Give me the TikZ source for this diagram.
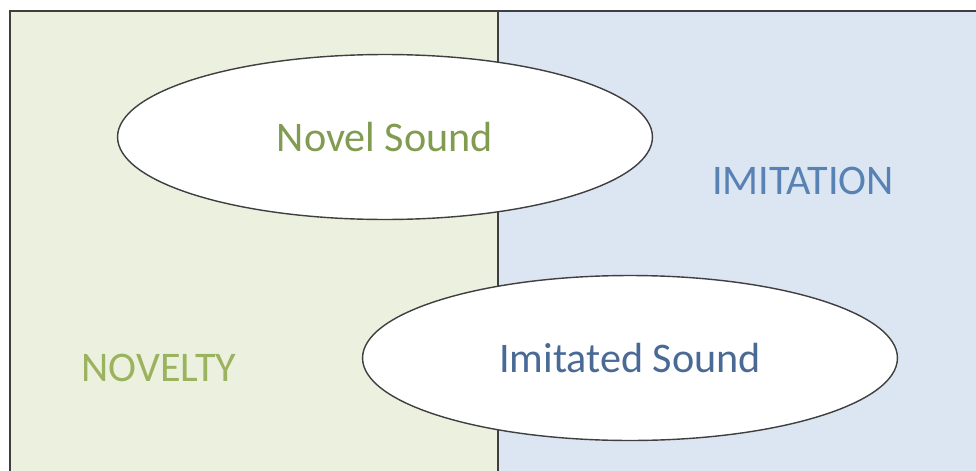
\documentclass[tikz,border=0pt]{standalone}
\usepackage{fontspec}
\setmainfont{Carlito}
\usetikzlibrary{shapes.geometric}

\definecolor{noveltyfill}{HTML}{EBF1DE}
\definecolor{imitationfill}{HTML}{DCE6F2}
\definecolor{noveltytext}{HTML}{9BB25E}
\definecolor{imitationtext}{HTML}{5882B4}
\definecolor{noveltext}{HTML}{819B50}
\definecolor{imitatedtext}{HTML}{4A6A96}
\definecolor{edge}{HTML}{3F3F3F}

\begin{document}
\begin{tikzpicture}[x = 0.02cm, y = -0.02cm,
	sound/.style = {ellipse, draw = edge, line width = 0.8pt, fill = white,
		minimum width = 10.7cm, minimum height = 3.3cm, inner sep = 0pt},
	region/.style = {font = \fontsize{24}{28}\selectfont}]

	\useasboundingbox (0, 0) rectangle (976, 470);
	\clip (0, 0) rectangle (976, 470);

	% Novelty and imitation regions
	
	\fill [noveltyfill] (10, 11) rectangle (498, 480);
	\fill [imitationfill] (498, 11) rectangle (990, 480);
	\draw [edge, line width = 1.2pt] (10, 480) -- (10, 11) -- (990, 11);
	\draw [edge, line width = 1pt] (498, 11) -- (498, 480);
	
	\node [region, text = noveltytext] (novelty) at (159, 368) {NOVELTY};
	\node [region, text = imitationtext] (imitation) at (803, 181) {IMITATION};
	
	% Sounds
	
	\node [sound, region, text = noveltext] (novel) at (385, 137) {Novel Sound};
	\node [sound, region, text = imitatedtext] (imitated) at (630, 358) {Imitated Sound};

\end{tikzpicture}
\end{document}
